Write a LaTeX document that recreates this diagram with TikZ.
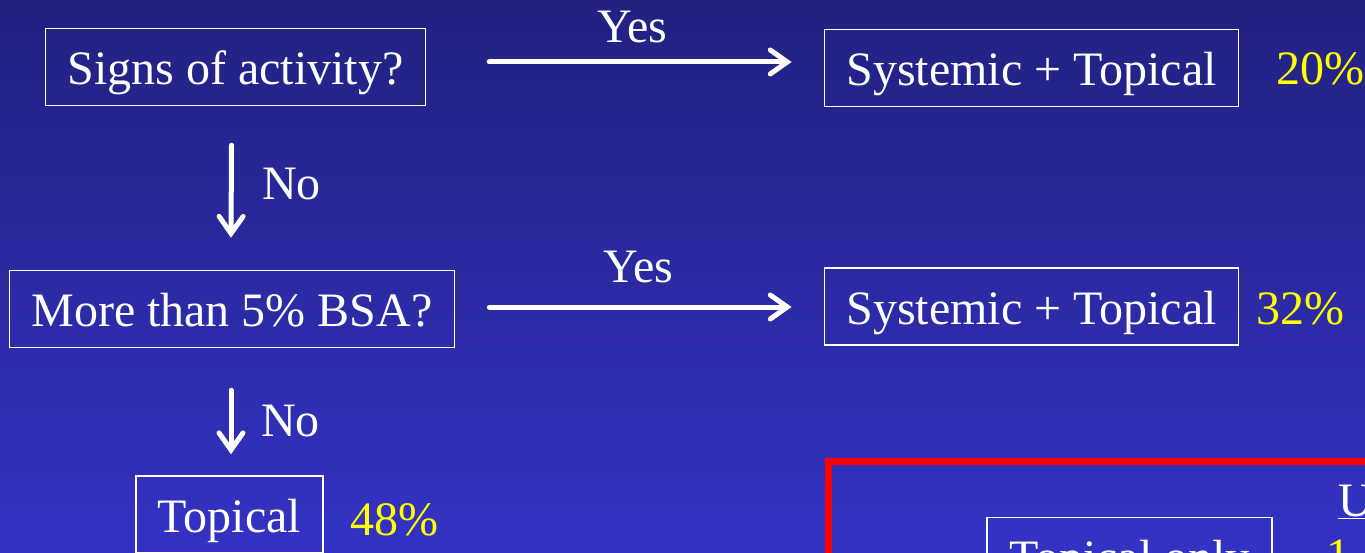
\documentclass[tikz,border=0pt]{standalone}
\usepackage{fontspec}
\setmainfont{Liberation Serif}
\usetikzlibrary{arrows.meta}
\definecolor{bgtop}{RGB}{34,33,128}
\definecolor{bgbottom}{RGB}{52,50,196}
\definecolor{pctyellow}{RGB}{255,255,0}
\begin{document}
\begin{tikzpicture}[x=1pt,y=-1pt,
	every node/.style={text=white,font=\fontsize{48}{58}\selectfont},
	choice/.style={draw=white,line width=1.5pt,inner xsep=22pt,inner ysep=0pt,text height=56pt,text depth=21pt},
	pct/.style={text=pctyellow,inner sep=0pt,anchor=base west},
	answer/.style={inner sep=0pt,anchor=base west},
	flow/.style={white,line width=5pt,line cap=round,-{Straight Barb[length=17pt,width=24pt,line cap=round]}}]
	%background
	\useasboundingbox (0,0) rectangle (1365,553);
	\clip (0,0) rectangle (1365,553);
	\shade[top color=bgtop,bottom color=bgbottom] (0,0) rectangle (1365,553);
	
	%questions
	\node[choice] (signs) at (235.5,67) {Signs of activity?};
	\node[choice] (bsa) at (232,309) {More than 5\% BSA?};
	
	%treatments
	\node[choice] (sys1) at (1031.5,68) {Systemic + Topical};
	\node[pct] (p20) at (1276,85) {20\%};
	\node[choice] (sys2) at (1031.5,306.5) {Systemic + Topical};
	\node[pct] (p32) at (1256,324) {32\%};
	\node[choice] (top) at (229.5,514.5) {Topical};
	\node[pct] (p48) at (350,535) {48\%};
	
	%arrows
	\draw[flow] ([xshift=63pt,yshift=5pt]signs.east) -- ([xshift=-32pt,yshift=6pt]sys1.west);
	\draw[flow] ([xshift=34pt,yshift=2pt]bsa.east) -- ([xshift=-32pt,yshift=-0.5pt]sys2.west);
	\draw[flow] ([xshift=-4pt,yshift=-39pt]signs.south) -- ([xshift=-1pt,yshift=32pt]bsa.north);
	\draw[flow] ([xshift=-1pt,yshift=-42pt]bsa.south) -- ([xshift=1.5pt,yshift=21pt]top.north);
	\node[answer] (yes1) at (597,43) {Yes};
	\node[answer] (yes2) at (603,283) {Yes};
	\node[answer] (no1) at (262,200) {No};
	\node[answer] (no2) at (261,436) {No};
	
	%highlighted box
	\draw[red,line width=7pt] (828,461) rectangle (1420,640);
	\node[choice] (only) at (1129.5,556) {Topical only};
	\node[answer] (head) at (1338,516) {\underline{U}};
	\node[pct] (p1) at (1326,571) {1};
\end{tikzpicture}
\end{document}
